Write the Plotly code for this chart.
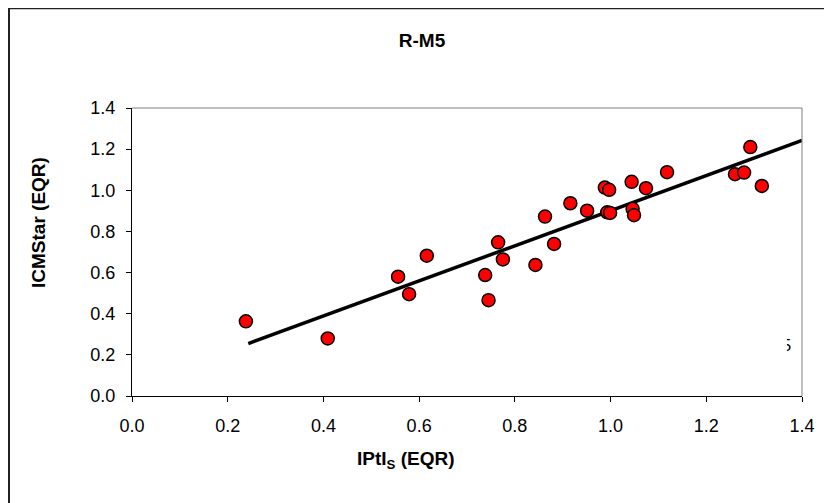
import plotly.graph_objects as go

# Observed points: IPtI_S (EQR) vs ICMStar (EQR)
ipti_s = [0.238, 0.409, 0.556, 0.579, 0.616, 0.738, 0.745, 0.765, 0.775,
          0.843, 0.863, 0.882, 0.916, 0.951, 0.988, 0.997, 0.993, 0.999,
          1.044, 1.046, 1.049, 1.074, 1.118, 1.260, 1.279, 1.292, 1.316]
icmstar = [0.363, 0.280, 0.580, 0.495, 0.682, 0.588, 0.466, 0.747, 0.664,
           0.637, 0.872, 0.739, 0.937, 0.901, 1.013, 1.002, 0.893, 0.890,
           1.041, 0.910, 0.879, 1.010, 1.088, 1.078, 1.086, 1.210, 1.021]

# Trend line
trend_x = [0.243, 0.45, 0.70, 0.95, 1.20, 1.40]
trend_y = [0.255, 0.432, 0.645, 0.860, 1.072, 1.242]

x_ticks = [0.0, 0.2, 0.4, 0.6, 0.8, 1.0, 1.2, 1.4]
y_ticks = [0.0, 0.2, 0.4, 0.6, 0.8, 1.0, 1.2, 1.4]

FONT = "Liberation Sans, Arial, sans-serif"

fig = go.Figure()
fig.add_trace(go.Scatter(
    x=trend_x, y=trend_y, mode="lines",
    line=dict(color="black", width=3.5), hoverinfo="skip", showlegend=False))
fig.add_trace(go.Scatter(
    x=ipti_s, y=icmstar, mode="markers",
    marker=dict(size=13, color="#FF0000", line=dict(color="black", width=1.5)),
    showlegend=False))
# small clipped glyph artefact near the right edge
fig.add_trace(go.Scatter(
    x=[1.368], y=[0.24], mode="text", text=["5"],
    textfont=dict(family=FONT, size=16, color="black"),
    hoverinfo="skip", showlegend=False))

# page body has an 8px margin; figure sized to fit the window
OFF = 8
W, H = 832 - OFF, 503 - OFF
L, T = 132 - OFF, 108 - OFF
R = W - (802 - OFF)
B = H - (396 - OFF)
pw, ph = W - L - R, H - T - B

def px(x):  # screen pixel -> paper x
    return (x - OFF - L) / pw

def py(y):  # screen pixel -> paper y
    return (H - B - (y - OFF)) / ph

fig.update_layout(
    width=W, height=H,
    margin=dict(l=L, r=R, t=T, b=B),
    paper_bgcolor="white", plot_bgcolor="white",
    font=dict(family=FONT, size=18, color="black"),
    title=dict(text="<b>R-M5</b>", x=(422 - OFF) / W, y=1 - (40 - OFF) / H,
               xanchor="center", yanchor="middle",
               font=dict(family=FONT, size=19, color="black")),
    xaxis=dict(range=[0, 1.4], tickvals=x_ticks,
               ticktext=[f"{v:.1f}" for v in x_ticks],
               ticks="outside", ticklen=5, tickcolor="black",
               ticklabelstandoff=8,
               showline=True, linecolor="black", linewidth=1,
               showgrid=False, zeroline=False, fixedrange=True),
    yaxis=dict(range=[0, 1.4], tickvals=y_ticks,
               ticktext=[f"{v:.1f}" for v in y_ticks],
               ticks="outside", ticklen=5, tickcolor="black",
               ticklabelstandoff=7,
               showline=True, linecolor="black", linewidth=1,
               showgrid=False, zeroline=False, fixedrange=True),
    shapes=[
        # plot-area border (top/right)
        dict(type="line", xref="paper", yref="paper", x0=0, x1=1, y0=1, y1=1,
             line=dict(color="#808080", width=1)),
        dict(type="line", xref="paper", yref="paper", x0=1, x1=1, y0=0, y1=1,
             line=dict(color="#808080", width=1)),
        # cover left part of glyph
        dict(type="rect", xref="x", yref="y", x0=1.34, x1=1.3685, y0=0.17, y1=0.32,
             fillcolor="white", line=dict(width=0), layer="above"),
        # outer chart border (left and top edges visible)
        dict(type="line", xref="paper", yref="paper",
             x0=px(9), x1=px(9), y0=py(510), y1=py(8),
             line=dict(color="#222222", width=2)),
        dict(type="line", xref="paper", yref="paper",
             x0=px(9), x1=px(845), y0=py(8.5), y1=py(8.5),
             line=dict(color="#222222", width=1.5)),
    ],
    annotations=[
        dict(text="<b>ICMStar (EQR)</b>", xref="paper", yref="paper",
             x=px(38), y=py(223), textangle=-90, showarrow=False,
             xanchor="center", yanchor="middle",
             font=dict(family=FONT, size=19, color="black")),
        dict(text="<b>IPtI<sub>S</sub> (EQR)</b>", xref="paper", yref="paper",
             x=px(406), y=py(460), showarrow=False,
             xanchor="center", yanchor="middle",
             font=dict(family=FONT, size=19, color="black")),
    ],
)

fig.write_html("out.html")
